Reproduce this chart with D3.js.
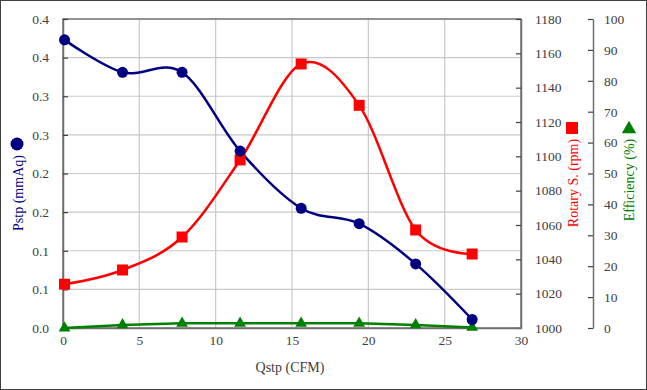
<!DOCTYPE html>
<html><head><meta charset="utf-8">
<script src="https://cdn.jsdelivr.net/npm/d3@7"></script>
<style>
body{margin:0;background:#fff;}
svg{display:block;font-family:"Liberation Serif","Times New Roman",serif;}
</style></head>
<body><svg id="c" width="647" height="390"></svg>
<script>
// ---- data ----
const qstp = [0.1, 3.9, 7.8, 11.6, 15.6, 19.4, 23.1, 26.8];
const pstp = [0.373, 0.331, 0.331, 0.229, 0.155, 0.135, 0.083, 0.011];
const rotary = [1025.5, 1033.8, 1053.0, 1097.9, 1153.8, 1129.7, 1057.1, 1043.1];
const efficiency = [0, 1.0, 1.5, 1.5, 1.5, 1.5, 1.0, 0.2];
const xTicks = [0, 5, 10, 15, 20, 25, 30];
const leftTicks = [0, 0.05, 0.1, 0.15, 0.2, 0.25, 0.3, 0.35, 0.4];
const leftLabels = ["0.0", "0.1", "0.1", "0.2", "0.2", "0.3", "0.3", "0.4", "0.4"];
const rotTicks = [1000, 1020, 1040, 1060, 1080, 1100, 1120, 1140, 1160, 1180];
const effTicks = [0, 10, 20, 30, 40, 50, 60, 70, 80, 90, 100];

const svg = d3.select("#c");
const L = 63, R = 521, T = 19, B = 328;
const x = d3.scaleLinear([0, 30], [L, R]);
const yL = d3.scaleLinear([0, 0.4], [B, T]);
const yR = d3.scaleLinear([1000, 1180], [B, T]);
const yE = d3.scaleLinear([0, 100], [B, T]);
const txtCol = "#404040", axCol = "#6f6f6f", gridCol = "#c8c8c8";

// outer border
svg.append("rect").attr("x", 0.5).attr("y", 0.5).attr("width", 646).attr("height", 389)
  .attr("fill", "#fff").attr("stroke", "#404040").attr("stroke-width", 1);

// gridlines
svg.append("g").selectAll("line").data(leftTicks.slice(1, -1)).join("line")
  .attr("x1", L).attr("x2", R).attr("y1", d => yL(d)).attr("y2", d => yL(d))
  .attr("stroke", gridCol).attr("stroke-width", 1.2);
svg.append("g").selectAll("line").data(xTicks.slice(1, -1)).join("line")
  .attr("y1", T).attr("y2", B).attr("x1", d => x(d)).attr("x2", d => x(d))
  .attr("stroke", gridCol).attr("stroke-width", 1.2);

// plot frame
svg.append("rect").attr("x", L).attr("y", T).attr("width", R - L).attr("height", B - T)
  .attr("fill", "none").attr("stroke", axCol).attr("stroke-width", 1.5);

function styleAxis(g) {
  g.attr("font-family", null);
  g.selectAll(".domain").attr("stroke", axCol).attr("stroke-width", 1.5);
  g.selectAll(".tick line").attr("stroke", "#404040").attr("stroke-width", 1.2);
  g.selectAll("text").attr("fill", txtCol).style("font-size", "13.5px")
    .style("font-family", '"Liberation Serif","Times New Roman",serif');
}
svg.append("g").attr("transform", `translate(${L},0)`)
  .call(d3.axisLeft(yL).tickValues(leftTicks).tickFormat((d, i) => leftLabels[i]).tickSize(-5).tickPadding(14).tickSizeOuter(0))
  .call(styleAxis);
svg.append("g").attr("transform", `translate(${R},0)`)
  .call(d3.axisRight(yR).tickValues(rotTicks).tickFormat(d3.format("d")).tickSize(-5).tickPadding(14).tickSizeOuter(0))
  .call(styleAxis);
svg.append("g").attr("transform", `translate(593,0)`)
  .call(d3.axisRight(yE).tickValues(effTicks).tickFormat(d3.format("d")).tickSize(-5).tickPadding(11).tickSizeOuter(0))
  .call(styleAxis);
svg.append("g").attr("transform", `translate(0,${B})`)
  .call(d3.axisBottom(x).tickValues(xTicks).tickFormat(d3.format("d")).tickSize(0).tickPadding(7).tickSizeOuter(0))
  .call(styleAxis);

// series
const idx = d3.range(qstp.length);
const smooth = d3.curveCardinal.tension(0);
function drawLine(vals, yS, color, curve) {
  svg.append("path").datum(idx)
    .attr("d", d3.line().x(i => x(qstp[i])).y(i => yS(vals[i])).curve(curve))
    .attr("fill", "none").attr("stroke", color).attr("stroke-width", 2.5);
}
drawLine(efficiency, yE, "#008000", d3.curveLinear);
drawLine(rotary, yR, "#ff0000", smooth);
drawLine(pstp, yL, "#000080", smooth);

svg.append("g").selectAll("path").data(idx).join("path")
  .attr("transform", i => `translate(${x(qstp[i])},${yE(efficiency[i])})`)
  .attr("d", d3.symbol(d3.symbolTriangle, 60)).attr("fill", "#008000");
svg.append("g").selectAll("rect").data(idx).join("rect")
  .attr("x", i => x(qstp[i]) - 5.5).attr("y", i => yR(rotary[i]) - 5.5)
  .attr("width", 11).attr("height", 11).attr("fill", "#ff0000");
svg.append("g").selectAll("circle").data(idx).join("circle")
  .attr("cx", i => x(qstp[i])).attr("cy", i => yL(pstp[i])).attr("r", 5.5).attr("fill", "#000080");

// axis titles
svg.append("text").attr("x", 290).attr("y", 372).attr("text-anchor", "middle")
  .attr("fill", txtCol).style("font-size", "14px").text("Qstp (CFM)");

function vTitle(cx, cy, text, color) {
  return svg.append("text").attr("transform", `translate(${cx},${cy}) rotate(-90)`)
    .attr("text-anchor", "middle").attr("dominant-baseline", "central")
    .attr("fill", color).style("font-size", "14px").text(text);
}
vTitle(18, 193, "Pstp (mmAq)", "#000080");
svg.append("circle").attr("cx", 17).attr("cy", 144).attr("r", 6.5).attr("fill", "#000080");
vTitle(573, 183, "Rotary S. (rpm)", "#ff0000");
svg.append("rect").attr("x", 566).attr("y", 122).attr("width", 12).attr("height", 12).attr("fill", "#ff0000");
vTitle(629, 180, "Efficiency (%)", "#008000");
svg.append("path").attr("transform", "translate(629,129)")
  .attr("d", d3.symbol(d3.symbolTriangle, 90)).attr("fill", "#008000");
</script></body></html>
